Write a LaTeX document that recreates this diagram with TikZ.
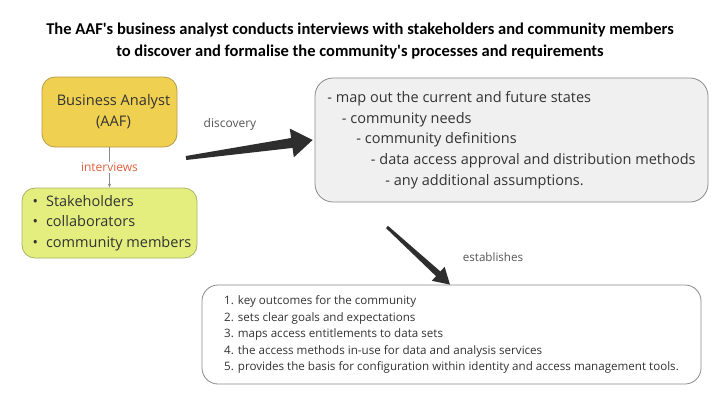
\documentclass[tikz,border=0pt]{standalone}
\usepackage{fontspec}
\setmainfont{Open Sans}
\newfontfamily\titlefont{Carlito}
\usetikzlibrary{calc,arrows.meta}

\definecolor{analystfill}{HTML}{F0D050}
\definecolor{analystline}{HTML}{B89B45}
\definecolor{partyfill}{HTML}{E3EE7E}
\definecolor{partyline}{HTML}{A9B364}
\definecolor{findfill}{HTML}{F0F0F0}
\definecolor{boxline}{HTML}{8A8A8A}
\definecolor{labelred}{HTML}{E0603E}
\definecolor{labelgray}{HTML}{555555}
\definecolor{textdark}{HTML}{333333}
\definecolor{arrowdark}{HTML}{2E2E2E}

% wide tapering arrow: from, to, tail half width, shaft half width, head length, barb half width
\newcommand{\fatarrow}[6]{%
  \coordinate (fa-h) at ($(#2)!#5!(#1)$);
  \fill[arrowdark] ($(#1)!#3!90:(#2)$) -- ($(fa-h)!#4!90:(#2)$) -- ($(fa-h)!#6!90:(#2)$)
    -- (#2) -- ($(fa-h)!#6!-90:(#2)$) -- ($(fa-h)!#4!-90:(#2)$) -- ($(#1)!#3!-90:(#2)$) -- cycle;}

\begin{document}
\begin{tikzpicture}[x=1pt,y=-1pt,
    box/.style={draw, rounded corners=13pt, line width=0.8pt, text=textdark},
    smalllabel/.style={font=\fontsize{12}{14}\selectfont, text=labelgray}]
  \useasboundingbox[fill=white] (0,0) rectangle (720,405);

  \node[align=center, font=\titlefont\bfseries\fontsize{16.5}{22}\selectfont] (title) at (360,41)
    {The AAF's business analyst conducts interviews with stakeholders and community members\\
     to discover and formalise the community's processes and requirements};

  % left side
  \node[box, fill=analystfill, draw=analystline, minimum width=135, minimum height=70,
        align=center, font=\fontsize{14.6}{21}\selectfont] (analyst) at (109.5,112)
    {\hspace*{8pt}Business Analyst\\\hspace*{8pt}(AAF)};
  \node[box, fill=partyfill, draw=partyline, minimum width=175, minimum height=70,
        align=left, font=\fontsize{14.5}{20.5}\selectfont] (parties) at (109.5,223)
    {\hspace*{5pt}\textbullet\hspace{8pt}Stakeholders\\
     \hspace*{5pt}\textbullet\hspace{8pt}collaborators\\
     \hspace*{5pt}\textbullet\hspace{8pt}community members};
  \draw[draw=boxline, line width=0.5pt, -{Stealth[length=4pt,width=3pt]}] (analyst) -- (parties)
    node[midway, fill=white, inner sep=1pt, font=\fontsize{12}{14}\selectfont, text=labelred] (intlabel) {interviews};

  % findings
  \node[box, fill=findfill, draw=boxline, rounded corners=18pt, minimum width=393, minimum height=124,
        align=left, font=\fontsize{14.5}{20.7}\selectfont] (findings) at (511.5,140)
    {- map out the current and future states\\
     \hspace*{14.5pt}- community needs\\
     \hspace*{29pt}- community definitions\\
     \hspace*{43.5pt}- data access approval and distribution methods\\
     \hspace*{58pt}- any additional assumptions.};

  \node[box, fill=white, draw=boxline, rounded corners=16pt, minimum width=499, minimum height=99,
        align=left, font=\fontsize{11.6}{16.5}\selectfont] (outcomes) at (451.5,334.5)
    {1. key outcomes for the community\\
     2. sets clear goals and expectations\\
     3. maps access entitlements to data sets\\
     4. the access methods in-use for data and analysis services\\
     5. provides the basis for configuration within identity and access management tools.};

  % arrows
  \coordinate (discTail) at (186,158);
  \coordinate (discTip) at ($(findings.west)+(-2,0)$);
  \fatarrow{discTail}{discTip}{2pt}{5pt}{21pt}{14.5pt}
  \node[smalllabel] (disclabel) at (230,124) {discovery};

  \coordinate (estTail) at (387,227);
  \coordinate (estTip) at ($(outcomes.north)+(-1.5,0)$);
  \fatarrow{estTail}{estTip}{1.5pt}{3.2pt}{16pt}{9.5pt}
  \node[smalllabel, font=\fontsize{11.6}{14}\selectfont] (estlabel) at (493,257) {establishes};
\end{tikzpicture}
\end{document}
